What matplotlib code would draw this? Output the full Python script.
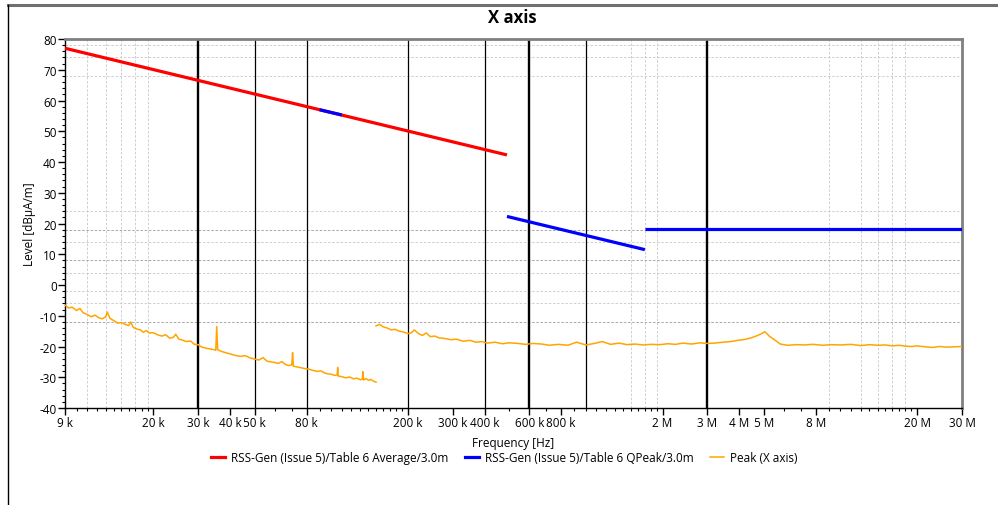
import matplotlib
matplotlib.use("Agg")
import matplotlib.pyplot as plt
from matplotlib.lines import Line2D
import numpy as np

plt.rcParams['font.family'] = ['Open Sans', 'DejaVu Sans']
plt.rcParams['axes.unicode_minus'] = False

# limit lines (frequency in Hz, level in dBuA/m)
avg_freq = [9e3, 490e3]
avg_level = [77.0, 42.3]
qp_low_freq = [90e3, 110e3]
qp_low_level = [57.0, 55.3]
qp_mid_freq = [490e3, 1.705e6]
qp_mid_level = [22.3, 11.5]
qp_high_freq = [1.705e6, 30e6]
qp_high_level = [18.1, 18.1]

# measured peak trace, part 1 (9 kHz - 150 kHz)
peak1_freq = [9.0e3, 9.3e3, 9.6e3, 10.0e3, 10.3e3, 10.6e3, 11.0e3, 11.4e3, 11.8e3,
              12.2e3, 12.6e3, 13.0e3, 13.2e3, 13.5e3, 14.0e3, 14.5e3, 15.0e3,
              15.5e3, 16.0e3, 16.3e3, 16.7e3, 17.2e3, 17.8e3, 18.3e3, 18.8e3,
              19.3e3, 20.0e3, 20.8e3, 21.6e3, 22.4e3, 23.2e3, 24.0e3, 24.5e3,
              25.2e3, 26.0e3, 27.0e3, 28.0e3, 29.0e3, 30.0e3, 31.0e3, 32.5e3,
              34.0e3, 35.2e3, 35.5e3, 35.8e3, 37.0e3, 38.5e3, 40.0e3, 42.0e3,
              44.0e3, 46.0e3, 48.0e3, 50.0e3, 52.0e3, 54.0e3, 56.0e3, 58.0e3,
              60.0e3, 62.0e3, 64.0e3, 66.0e3, 68.0e3, 70.0e3, 70.5e3, 71.0e3,
              73.0e3, 76.0e3, 79.0e3, 82.0e3, 85.0e3, 88.0e3, 91.0e3, 94.0e3,
              97.0e3, 100.0e3, 103.0e3, 105.5e3, 106.0e3, 106.5e3, 110.0e3,
              114.0e3, 118.0e3, 122.0e3, 126.0e3, 130.0e3, 132.5e3, 133.0e3,
              134.0e3, 137.0e3, 140.0e3, 143.0e3, 146.0e3, 150.0e3]
peak1_level = [-6.5, -7.5, -7.2, -8.3, -7.6, -9.0, -9.6, -10.3, -9.8,
               -10.6, -11.0, -10.4, -8.8, -10.8, -11.6, -12.4, -12.2,
               -12.8, -13.2, -12.0, -13.8, -14.3, -14.6, -15.4, -14.8,
               -15.6, -15.5, -16.2, -16.6, -16.2, -17.3, -17.0, -16.0,
               -17.6, -17.9, -18.4, -18.2, -19.3, -19.4, -20.2, -20.6,
               -20.9, -21.2, -13.5, -21.0, -21.6, -22.0, -22.4, -22.9,
               -23.2, -23.0, -23.7, -24.1, -24.4, -23.6, -24.8, -25.0,
               -25.2, -25.5, -24.9, -25.8, -26.2, -26.0, -22.0, -26.4,
               -26.6, -26.9, -27.2, -27.4, -27.8, -28.1, -27.9, -28.6,
               -28.9, -29.0, -29.4, -29.2, -26.8, -29.6, -29.8,
               -30.2, -29.9, -30.5, -30.3, -30.8, -30.6, -28.2,
               -30.9, -30.4, -31.0, -30.7, -31.2, -31.6]

# measured peak trace, part 2 (150 kHz - 30 MHz)
peak2_freq = [150e3, 155e3, 160e3, 166e3, 172e3, 178e3, 185e3, 192e3, 200e3,
              206e3, 212e3, 220e3, 228e3, 236e3, 245e3, 255e3, 265e3, 280e3,
              295e3, 310e3, 330e3, 350e3, 370e3, 390e3, 410e3, 440e3, 470e3,
              500e3, 540e3, 580e3, 620e3, 670e3, 720e3, 780e3, 850e3, 920e3,
              1.00e6, 1.08e6, 1.16e6, 1.25e6, 1.35e6, 1.45e6, 1.56e6, 1.68e6,
              1.80e6, 1.95e6, 2.10e6, 2.25e6, 2.40e6, 2.60e6, 2.80e6, 3.00e6,
              3.20e6, 3.45e6, 3.70e6, 3.95e6, 4.20e6, 4.45e6, 4.70e6, 4.90e6,
              5.05e6, 5.25e6, 5.50e6, 5.80e6, 6.20e6, 6.70e6, 7.20e6, 7.80e6,
              8.50e6, 9.20e6, 10.0e6, 11.0e6, 12.0e6, 13.0e6, 14.0e6, 15.0e6,
              16.0e6, 17.0e6, 18.0e6, 19.0e6, 20.0e6, 21.5e6, 23.0e6, 24.5e6,
              26.0e6, 28.0e6, 30.0e6]
peak2_level = [-13.3, -12.8, -13.6, -14.0, -14.6, -14.4, -15.0, -15.3, -15.8,
               -15.6, -14.6, -15.8, -16.4, -15.6, -16.8, -16.6, -17.2, -17.4,
               -17.8, -17.6, -18.3, -18.0, -18.6, -18.4, -18.9, -18.6, -19.1,
               -18.8, -19.0, -19.3, -19.0, -19.2, -19.6, -19.3, -19.6, -18.6,
               -19.5, -19.0, -18.4, -19.3, -18.9, -19.4, -19.2, -19.5,
               -19.3, -19.4, -19.1, -19.3, -18.9, -19.2, -18.8, -19.0,
               -18.9, -18.6, -18.4, -18.0, -17.7, -17.2, -16.5, -15.8,
               -15.2, -16.6, -17.8, -19.2, -19.6, -19.4, -19.5, -19.3,
               -19.6, -19.4, -19.5, -19.3, -19.7, -19.4, -19.6, -19.5,
               -19.8, -19.6, -19.9, -20.0, -19.8, -20.1, -20.3, -20.0,
               -20.2, -20.1, -20.0]

# axis ticks
x_major = [9e3, 20e3, 30e3, 40e3, 50e3, 80e3, 200e3, 300e3, 400e3, 600e3, 800e3,
           2e6, 3e6, 4e6, 5e6, 8e6, 20e6, 30e6]
x_labels = ["9 k", "20 k", "30 k", "40 k", "50 k", "80 k", "200 k", "300 k",
            "400 k", "600 k", "800 k", "2 M", "3 M", "4 M", "5 M", "8 M", "20 M", "30 M"]
y_major = list(range(-40, 81, 10))

# grid lines
thick_vlines = [30e3, 600e3, 3e6]
thin_vlines = [50e3, 80e3, 200e3, 400e3, 1e6]
dash_vlines = [11e3, 13e3, 15e3, 17e3, 19e3, 1.5e6, 1.7e6, 1.9e6,
               9e6, 12e6, 14e6, 16e6, 18e6]
dash_hlines = [78, 74, 68, 24, 18, 14, 8, 4, -2, -6, -12]
dark_hlines = [8, -12, 18]

fig = plt.figure(figsize=(9.98, 5.06), dpi=100)
ax = fig.add_axes([0.0651, 0.1917, 0.8988, 0.7292])

# frame around the whole chart
fig.add_artist(Line2D([8 / 998, 1], [1 - 6 / 506, 1 - 6 / 506], color="#707070", lw=2.2))
fig.add_artist(Line2D([8 / 998, 8 / 998], [0, 1 - 6 / 506], color="black", lw=1.0))

for x in dash_vlines:
    ax.axvline(x, color="#c8c8c8", lw=0.6, ls=(0, (3, 2)), zorder=1)
for y in dash_hlines:
    c = "#9a9a9a" if y in dark_hlines else "#c8c8c8"
    ax.axhline(y, color=c, lw=0.6, ls=(0, (3, 2)), zorder=1)
for x in thick_vlines:
    ax.axvline(x, color="black", lw=1.7, zorder=2)
for x in thin_vlines:
    ax.axvline(x, color="black", lw=0.9, zorder=2)

ax.plot(peak1_freq, peak1_level, color="#FFA500", lw=1.1, zorder=3)
ax.plot(peak2_freq, peak2_level, color="#FFA500", lw=1.1, zorder=3)
ax.plot(avg_freq, avg_level, color="#FF0000", lw=2.3, zorder=4,
        solid_capstyle="butt")
ax.plot(qp_low_freq, qp_low_level, color="#0000FF", lw=2.3, zorder=5,
        solid_capstyle="butt")
ax.plot(qp_mid_freq, qp_mid_level, color="#0000FF", lw=2.3, zorder=5,
        solid_capstyle="butt")
ax.plot(qp_high_freq, qp_high_level, color="#0000FF", lw=2.3, zorder=5,
        solid_capstyle="butt")

ax.set_xscale("log")
ax.set_xlim(9e3, 30e6)
ax.set_ylim(-40, 80)

ax.set_xticks(x_major)
ax.set_xticklabels(x_labels)
minor_x = (list(np.arange(10e3, 20e3, 1e3)) + [60e3, 70e3, 90e3]
           + list(np.arange(100e3, 200e3, 10e3)) + [500e3, 700e3, 900e3]
           + list(np.arange(1e6, 2e6, 0.1e6)) + [6e6, 7e6, 9e6]
           + list(np.arange(10e6, 20e6, 1e6)))
ax.set_xticks(minor_x, minor=True)
ax.set_yticks(y_major)
ax.set_yticklabels([str(v) for v in y_major])
ax.set_yticks(range(-40, 81, 2), minor=True)

ax.tick_params(axis="both", which="major", length=5, width=1, labelsize=8.5,
               colors="black", pad=1)
ax.tick_params(axis="both", which="minor", length=2.5, width=0.8)
ax.xaxis.set_minor_formatter(plt.NullFormatter())

for s in ["top", "right"]:
    ax.spines[s].set_color("#808080")
    ax.spines[s].set_linewidth(2)
for s in ["left", "bottom"]:
    ax.spines[s].set_color("black")
    ax.spines[s].set_linewidth(1)

ax.set_xlabel("Frequency [Hz]", fontsize=8.5, labelpad=5)
ax.set_ylabel("Level [dBµA/m]", fontsize=8.5, labelpad=2)
fig.text(0.513, 1 - 18 / 506, "X axis", ha="center", va="center",
         fontsize=12, fontweight="bold")

handles = [Line2D([], [], color="#FF0000", lw=2.3),
           Line2D([], [], color="#0000FF", lw=2.3),
           Line2D([], [], color="#FFA500", lw=1.1)]
labels = ["RSS-Gen (Issue 5)/Table 6 Average/3.0m",
          "RSS-Gen (Issue 5)/Table 6 QPeak/3.0m",
          "Peak (X axis)"]
fig.legend(handles, labels, loc="center", bbox_to_anchor=(0.505, 1 - 459 / 506),
           ncol=3, frameon=False, fontsize=8.5, handlelength=1.2,
           handletextpad=0.5, columnspacing=1.4)

fig.savefig("out.png", dpi=100)
